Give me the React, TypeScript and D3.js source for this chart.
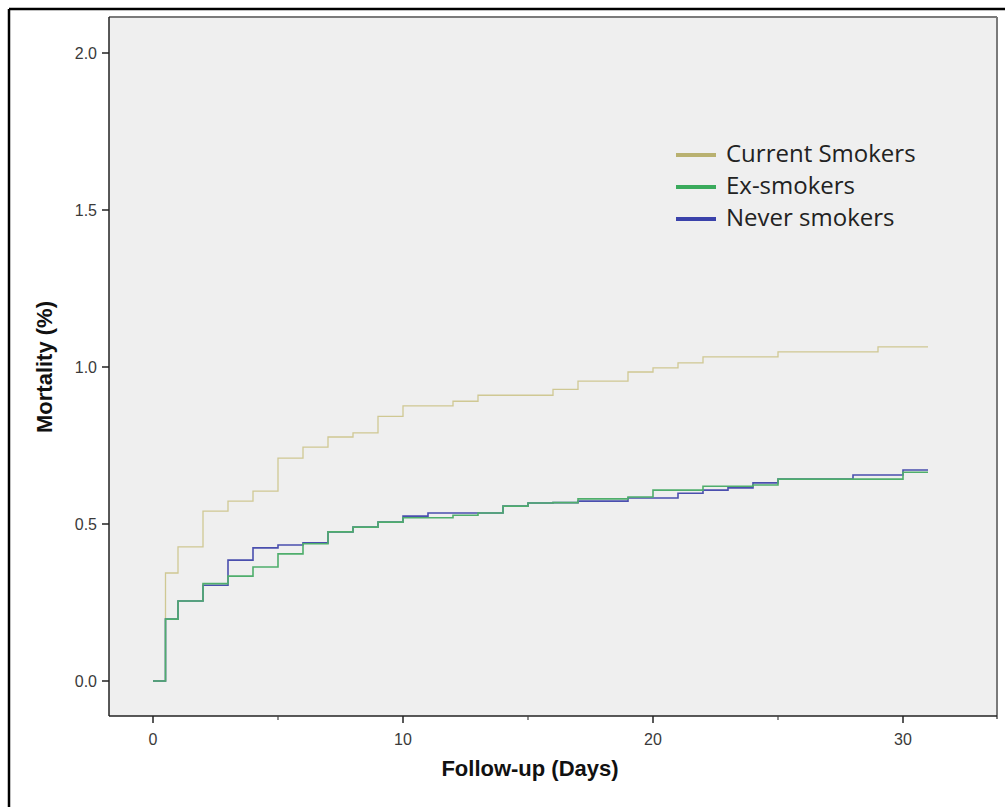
import React from "react";
import * as d3 from "d3";

const xTicks = [0, 10, 20, 30];
const xMinorTicks = [5, 15, 25];
const yTicks = [0, 0.5, 1.0, 1.5, 2.0];

const seriesNames = ["Current Smokers", "Ex-smokers", "Never smokers"];
const seriesColors = ["#cfc893", "#4fae6c", "#4a4fae"];
const legendColors = ["#b9b170", "#3aaa5c", "#3a42aa"];

const currentTimes = [0, 0.5, 1, 2, 3, 4, 5, 6, 7, 8, 9, 10, 12, 13, 16, 17, 19, 20, 21, 22, 25, 29, 31];
const currentValues = [0, 0.344, 0.427, 0.541, 0.573, 0.605, 0.71, 0.745, 0.777, 0.79, 0.843, 0.876, 0.891, 0.91, 0.929, 0.955, 0.984, 0.997, 1.013, 1.032, 1.048, 1.064, 1.064];

const exTimes = [0, 0.5, 1, 2, 3, 4, 5, 6, 7, 8, 9, 10, 12, 13, 14, 15, 16, 17, 19, 20, 22, 24, 25, 30, 31];
const exValues = [0, 0.197, 0.255, 0.31, 0.334, 0.363, 0.405, 0.437, 0.475, 0.49, 0.506, 0.52, 0.528, 0.535, 0.557, 0.567, 0.568, 0.58, 0.586, 0.608, 0.62, 0.624, 0.643, 0.665, 0.665];

const neverTimes = [0, 0.5, 1, 2, 3, 4, 5, 6, 7, 8, 9, 10, 11, 14, 15, 16, 17, 19, 21, 22, 23, 24, 25, 28, 30, 31];
const neverValues = [0, 0.197, 0.255, 0.305, 0.385, 0.424, 0.433, 0.44, 0.475, 0.49, 0.506, 0.525, 0.535, 0.557, 0.567, 0.568, 0.573, 0.583, 0.598, 0.608, 0.615, 0.631, 0.643, 0.656, 0.672, 0.672];

const W = 1005;
const H = 807;
const plotLeft = 109;
const plotRight = 997;
const plotTop = 17;
const plotBottom = 716;

export default function App() {
  const x = d3.scaleLinear().domain([0, 30]).range([153, 903]);
  const y = d3.scaleLinear().domain([0, 2]).range([681, 53]);

  const series = [
    { t: currentTimes, v: currentValues, c: 0 },
    { t: neverTimes, v: neverValues, c: 2 },
    { t: exTimes, v: exValues, c: 1 },
  ];

  const line = d3
    .line<[number, number]>()
    .x((d) => x(d[0]))
    .y((d) => y(d[1]))
    .curve(d3.curveStepAfter);

  const legendY = [155, 187, 219];

  return (
    <svg
      width={W}
      height={H}
      style={{ position: "absolute", left: 0, top: 0, background: "#fff" }}
    >
      {/* outer frame */}
      <line x1={9} y1={9} x2={W} y2={9} stroke="#000" strokeWidth={2.5} />
      <line x1={9} y1={9} x2={9} y2={H} stroke="#000" strokeWidth={2.5} />

      {/* plot background */}
      <rect
        x={plotLeft}
        y={plotTop}
        width={plotRight - plotLeft}
        height={plotBottom - plotTop}
        fill="#efefef"
      />
      <line x1={plotLeft} y1={plotTop} x2={plotRight} y2={plotTop} stroke="#7a7a7a" strokeWidth={2} />
      <line x1={plotRight} y1={plotTop} x2={plotRight} y2={plotBottom + 3} stroke="#7a7a7a" strokeWidth={2} />
      <line x1={plotLeft} y1={plotTop} x2={plotLeft} y2={plotBottom} stroke="#222" strokeWidth={1.5} />
      <line x1={plotLeft} y1={plotBottom} x2={plotRight} y2={plotBottom} stroke="#222" strokeWidth={1.5} />

      {/* y ticks */}
      {yTicks.map((t) => (
        <g key={"y" + t}>
          <line x1={plotLeft - 7} x2={plotLeft} y1={y(t)} y2={y(t)} stroke="#222" strokeWidth={1.5} />
          <text
            x={97}
            y={y(t) + 6}
            textAnchor="end"
            fontFamily="Liberation Sans, Arial, sans-serif"
            fontSize={16}
            fill="#3a3a3a"
          >
            {t.toFixed(1)}
          </text>
        </g>
      ))}

      {/* x ticks */}
      {xTicks.map((t) => (
        <g key={"x" + t}>
          <line x1={x(t)} x2={x(t)} y1={plotBottom} y2={plotBottom + 7} stroke="#222" strokeWidth={1.5} />
          <text
            x={x(t)}
            y={745}
            textAnchor="middle"
            fontFamily="Liberation Sans, Arial, sans-serif"
            fontSize={16}
            fill="#3a3a3a"
          >
            {t}
          </text>
        </g>
      ))}
      {xMinorTicks.map((t) => (
        <line key={"m" + t} x1={x(t)} x2={x(t)} y1={plotBottom} y2={plotBottom + 4} stroke="#444" strokeWidth={1.2} />
      ))}

      {/* curves */}
      {series.map((s, i) => {
        const pts: [number, number][] = s.t.map((tt, j) => [tt, s.v[j]]);
        return (
          <path
            key={"s" + i}
            d={line(pts) || ""}
            fill="none"
            stroke={seriesColors[s.c]}
            strokeWidth={s.c === 0 ? 1.3 : 1.6}
          />
        );
      })}

      {/* legend */}
      {seriesNames.map((n, i) => (
        <g key={"l" + i}>
          <line x1={676} x2={716} y1={legendY[i]} y2={legendY[i]} stroke={legendColors[i]} strokeWidth={4} />
          <text
            x={726}
            y={legendY[i] + 7}
            fontFamily="Open Sans, sans-serif"
            fontSize={24}
            fill="#222"
          >
            {n}
          </text>
        </g>
      ))}

      {/* axis titles */}
      <text
        x={530}
        y={776}
        textAnchor="middle"
        fontFamily="Liberation Sans, Arial, sans-serif"
        fontWeight="bold"
        fontSize={22}
        fill="#111"
      >
        Follow-up (Days)
      </text>
      <text
        transform="translate(52,367) rotate(-90)"
        textAnchor="middle"
        fontFamily="Liberation Sans, Arial, sans-serif"
        fontWeight="bold"
        fontSize={22}
        fill="#111"
      >
        Mortality (%)
      </text>
    </svg>
  );
}
